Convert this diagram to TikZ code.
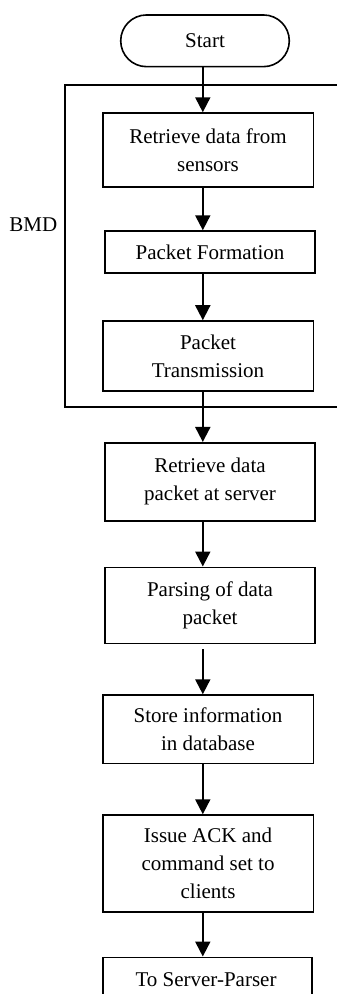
\documentclass[tikz,border=0pt]{standalone}
\usepackage{fontspec}
\setmainfont{Liberation Serif}
\usetikzlibrary{arrows.meta,shapes.misc}
\begin{document}
\begin{tikzpicture}[x=1pt,y=-1pt,
  every node/.style={font=\fontsize{21}{28}\selectfont, inner sep=0pt, align=center},
  procbox/.style={draw, line width=1.6pt, rectangle},
  termbox/.style={draw, line width=1.6pt, rounded rectangle},
  flow/.style={line width=2pt, -{Triangle[width=15pt,length=15pt]}},
  frame/.style={line width=1.6pt}]
\useasboundingbox (0,0) rectangle (337,994);
\clip (0,0) rectangle (337,994);
\node[termbox, minimum width=168.6pt, minimum height=51.7pt] (start) at (205,40.8) {Start};
\node[procbox, minimum width=210.6pt, minimum height=73.7pt] (b1) at (208,149.9) {Retrieve data from\\sensors};
\node[procbox, minimum width=210pt, minimum height=41.7pt] (b2) at (210,251.9) {Packet Formation};
\node[procbox, minimum width=210.6pt, minimum height=70pt] (b3) at (208,356) {Packet\\Transmission};
\node[procbox, minimum width=210pt, minimum height=78.3pt] (b4) at (210,481.9) {Retrieve data\\packet at server};
\node[procbox, minimum width=210pt, minimum height=76pt] (b5) at (210,605.3) {Parsing of data\\packet};
\node[procbox, minimum width=210.6pt, minimum height=68.3pt] (b6) at (208,729.2) {Store information\\in database};
\node[procbox, minimum width=210.6pt, minimum height=96.7pt] (b7) at (208,863.4) {Issue ACK and\\command set to\\clients};
\node[procbox, minimum width=209pt, minimum height=60pt, text depth=0pt] (b8) at (207.2,987.3) {};
\node (b8t) at (206,980) {To Server-Parser};
\node (bmd) at (33.3,225) {BMD};
\coordinate (ax) at (202.8,0);
\draw[frame] (345,85) -- (65,85) -- (65,406.7) -- (345,406.7);
\draw[flow] (start.south -| ax) -- (b1.north -| ax);
\draw[flow] (b1.south -| ax) -- (b2.north -| ax);
\draw[flow] (b2.south -| ax) -- (b3.north -| ax);
\draw[flow] (b3.south -| ax) -- (b4.north -| ax);
\draw[flow] (b4.south -| ax) -- (b5.north -| ax);
\draw[flow] ([yshift=-5pt]b5.south -| ax) -- (b6.north -| ax);
\draw[flow] (b6.south -| ax) -- (b7.north -| ax);
\draw[flow] (b7.south -| ax) -- (b8.north -| ax);
\end{tikzpicture}
\end{document}
